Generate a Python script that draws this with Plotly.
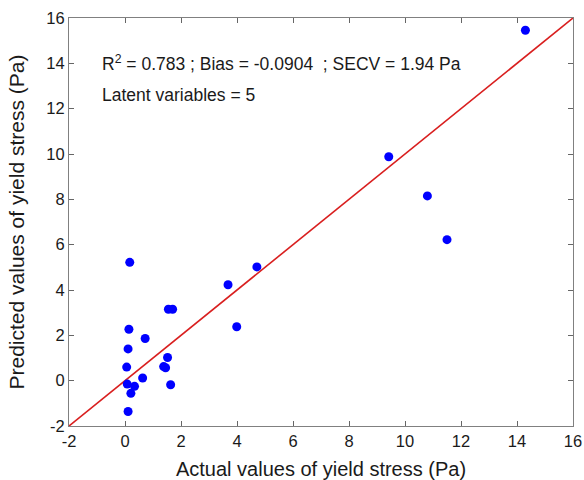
import plotly.graph_objects as go

# actual vs predicted yield stress (Pa)
actual = [0.17, 1.55, 1.70, 0.14, 0.72, 0.11, 1.52, 0.06, 1.38, 1.45, 0.63,
          0.08, 0.34, 1.63, 0.21, 0.11, 3.68, 3.99, 4.71, 9.42, 10.8, 11.5, 14.3]
predicted = [5.22, 3.15, 3.15, 2.27, 1.86, 1.40, 1.02, 0.60, 0.62, 0.57, 0.12,
             -0.15, -0.25, -0.18, -0.56, -1.36, 4.23, 2.38, 5.02, 9.88, 8.15, 6.22, 15.46]
ideal = [-2, 16]
ticks = [-2, 0, 2, 4, 6, 8, 10, 12, 14, 16]
tick_labels = ['-2', '0', '2', '4', '6', '8', '10', '12', '14', '16']

fig = go.Figure()
fig.add_trace(go.Scatter(x=ideal, y=ideal, mode='lines',
                         line=dict(color='#d91f1f', width=1.6),
                         hoverinfo='skip'))
fig.add_trace(go.Scatter(x=actual, y=predicted, mode='markers',
                         marker=dict(color='#0000ff', size=9)))

axis_style = dict(range=[-2, 16], tickvals=ticks, ticktext=tick_labels,
                  ticks='inside', ticklen=5, tickcolor='#666',
                  showline=True, linecolor='#808080', linewidth=1,
                  mirror='allticks', showgrid=False, zeroline=False,
                  automargin=False,
                  tickfont=dict(size=16.5, color='#1a1a1a'))

fig.update_layout(
    width=584, height=480,
    margin=dict(l=69, r=11, t=18, b=54),
    showlegend=False,
    plot_bgcolor='white', paper_bgcolor='white',
    font=dict(family='Liberation Sans, Arial, sans-serif', color='#1a1a1a'),
    xaxis=dict(title=dict(text='Actual values of yield stress (Pa)',
                          font=dict(size=20)), **axis_style),
    yaxis=dict(title=dict(text='Predicted values of yield stress (Pa)',
                          font=dict(size=21)), **axis_style),
)

fig.add_annotation(x=-0.9, y=14, xref='x', yref='y', xanchor='left',
                   text='R<sup>2</sup> = 0.783 ; Bias = -0.0904  ; SECV = 1.94 Pa',
                   showarrow=False, font=dict(size=17.5))
fig.add_annotation(x=-0.9, y=12.6, xref='x', yref='y', xanchor='left',
                   text='Latent variables = 5',
                   showarrow=False, font=dict(size=17.5))

# drop the default body margin so the figure fills the window exactly
fig.write_html("out.html", config={'displayModeBar': False},
               post_script="document.body.style.margin = '0';")
